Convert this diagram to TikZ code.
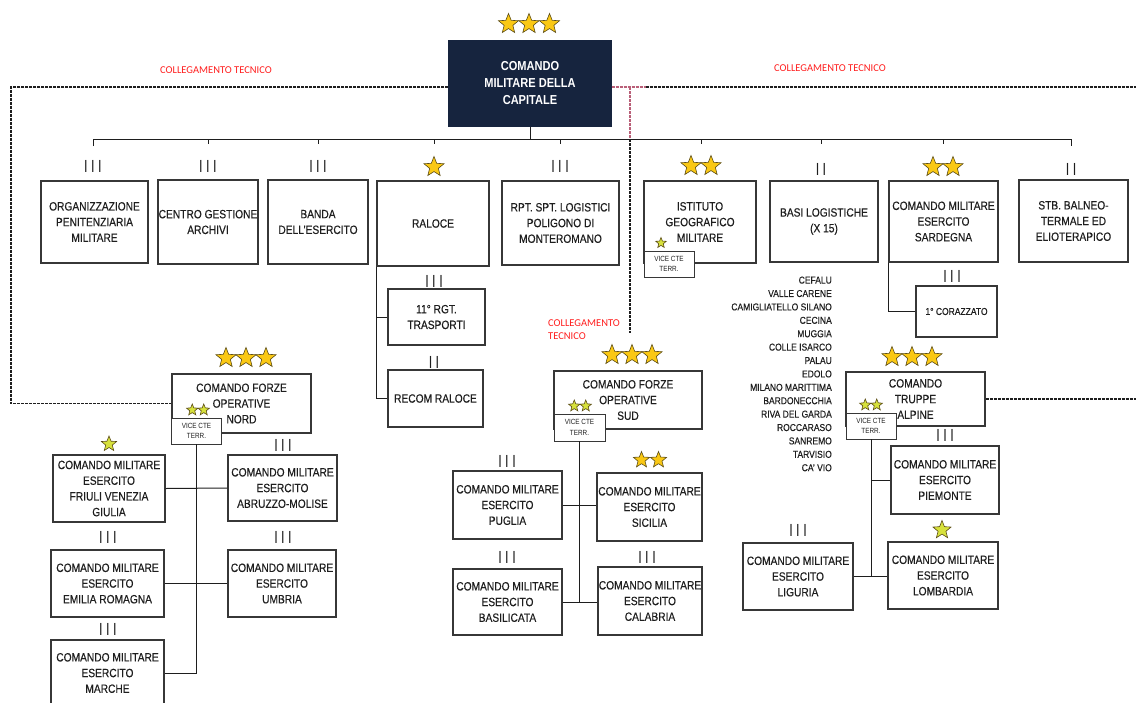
\documentclass[tikz,border=0pt]{standalone}
\usepackage{fontspec}
\setmainfont{Liberation Sans}
\newfontfamily\narrowfont{Liberation Sans}[FakeStretch=0.85, FakeBold=0.3]
\newfontfamily\capfont{Liberation Sans}[FakeStretch=0.85]
\newfontfamily\rankfont{Liberation Sans}[FakeStretch=0.72]
\newfontfamily\notefont{Carlito}
\usetikzlibrary{shapes.geometric}
\usetikzlibrary{calc}
\definecolor{navy}{RGB}{22, 36, 62}
\definecolor{boxline}{RGB}{55, 55, 55}
\definecolor{inkgray}{RGB}{30, 30, 30}
\definecolor{stargold}{RGB}{250, 200, 20}
\definecolor{starlime}{RGB}{215, 225, 60}
\definecolor{stardraw}{RGB}{90, 75, 20}
\definecolor{techred}{RGB}{255, 30, 30}
\definecolor{linkpink}{RGB}{185, 95, 120}
\tikzset{unit/.style = {draw=boxline, line width=1.2, fill=white, align=center,
                        inner sep=0, text=inkgray,
                        font=\narrowfont\fontsize{12}{15.7}\selectfont}}
\tikzset{capbox/.style = {unit, fill=navy, draw=navy, text=white,
                          font=\capfont\bfseries\fontsize{13}{17}\selectfont}}
\tikzset{vice/.style = {unit, line width=0.9, minimum width=50, minimum height=26,
                        font=\capfont\fontsize{7.5}{10.5}\selectfont}}
\tikzset{rank/.style = {inner sep=0, text=inkgray,
                        font=\rankfont\fontsize{17.5}{17.5}\selectfont}}
\tikzset{bigstar/.style = {star, star points=5, star point ratio=2.3, inner sep=0,
                           minimum size=21, draw=stardraw, line width=0.6, fill=stargold}}
\tikzset{smallstar/.style = {bigstar, minimum size=12, fill=starlime}}
\tikzset{branch/.style = {draw=inkgray, line width=1}}
\tikzset{link/.style = {inkgray, line width=1.3, dash pattern=on 3pt off 1pt}}
\tikzset{pinklink/.style = {link, linkpink}}
\tikzset{note/.style = {inner sep=0, text=techred,
                        font=\notefont\fontsize{10.5}{13}\selectfont}}
\tikzset{sedi/.style = {inner sep=0, text=inkgray, align=right,
                        font=\narrowfont\fontsize{10}{13.4}\selectfont}}
% name, position, count, spacing, style
\newcommand{\stargroup}[5]{%
  \coordinate (#1) at (#2);
  \foreach \k in {1,...,#3}
    \node [#5] (#1-\k) at ($(#1) + ({(\k - (#3 + 1) / 2) * #4}, 0)$) {};
}

\begin{document}
\begin{tikzpicture}[x=1pt, y=-1pt]
  \useasboundingbox (0,0) rectangle (1136,702);

  \node [capbox, minimum width=162, minimum height=85] (capitale) at (530,83.5)
        {COMANDO\\MILITARE DELLA\\CAPITALE};
  \stargroup{s-capitale}{529,24}{3}{20.5}{bigstar}

  % first row
  \node [unit, minimum width=107, minimum height=82] (penit) at (94.5,222)
        {ORGANIZZAZIONE\\PENITENZIARIA\\MILITARE};
  \node [unit, minimum width=100, minimum height=84] (archivi) at (208,222)
        {CENTRO GESTIONE\\ARCHIVI};
  \node [unit, minimum width=100, minimum height=84] (banda) at (318,222)
        {BANDA\\DELL’ESERCITO};
  \node [unit, minimum width=112, minimum height=85] (raloce) at (433,223.5) {RALOCE};
  \node [unit, minimum width=117, minimum height=84] (poligono) at (560.5,223)
        {RPT. SPT. LOGISTICI\\POLIGONO DI\\MONTEROMANO};
  \node [unit, minimum width=112, minimum height=82] (igm) at (700,222)
        {ISTITUTO\\GEOGRAFICO\\MILITARE};
  \node [unit, minimum width=108, minimum height=81] (basi) at (824,221.5)
        {BASI LOGISTICHE\\(X 15)};
  \node [unit, minimum width=109, minimum height=81] (sardegna) at (943.5,221.5)
        {COMANDO MILITARE\\ESERCITO\\SARDEGNA};
  \node [unit, minimum width=109, minimum height=82] (balneo) at (1073.5,221)
        {STB. BALNEO-\\TERMALE ED\\ELIOTERAPICO};

  \node [rank] (rk-penit) at (93,166) {I I I};
  \node [rank] (rk-archivi) at (208,166) {I I I};
  \node [rank] (rk-banda) at (318,166) {I I I};
  \stargroup{rk-raloce}{434,167}{1}{0}{bigstar}
  \node [rank] (rk-poligono) at (560,166) {I I I};
  \stargroup{rk-igm}{701,166}{2}{20}{bigstar}
  \node [rank] (rk-basi) at (821,169) {I I};
  \stargroup{rk-sardegna}{943,167}{2}{20}{bigstar}
  \node [rank] (rk-balneo) at (1071,169) {I I};

  \coordinate (bus) at (0,139);
  \draw [branch] (capitale) -- (capitale |- bus);
  \draw [branch] (rk-penit |- bus) ++(0,7) -- (rk-penit |- bus) -- (rk-balneo |- bus) -- ++(0,7);
  \foreach \r in {archivi,banda,raloce,poligono,igm,basi,sardegna}
    \draw [branch] (rk-\r |- bus) -- ++(0,5);

  \node [vice] (igm-vice) at (669,264) {VICE CTE\\TERR.};
  \stargroup{s-igm-vice}{661,243}{1}{0}{smallstar, minimum size=11}

  % raloce
  \node [rank] (rk-trasporti) at (434,281) {I I I};
  \node [unit, minimum width=97, minimum height=56] (trasporti) at (436.5,317)
        {11° RGT.\\TRASPORTI};
  \node [rank] (rk-recom) at (434,362) {I I};
  \node [unit, minimum width=95, minimum height=57] (recom) at (435.5,398.5) {RECOM RALOCE};
  \draw [branch] (raloce.south west) -- (raloce.south west |- recom.west) -- (recom.west);
  \draw [branch] (raloce.south west |- trasporti.west) -- (trasporti.west);

  % sardegna
  \node [rank] (rk-corazzato) at (952,276) {I I I};
  \node [unit, minimum width=81, minimum height=51, font=\narrowfont\fontsize{10}{13}\selectfont]
        (corazzato) at (956.5,311.5) {1° CORAZZATO};
  \draw [branch] (sardegna.south west) |- (corazzato.west);

  \node [sedi, anchor=north east] (sedi) at (832,276.4)
        {CEFALU\\VALLE CARENE\\CAMIGLIATELLO SILANO\\CECINA\\MUGGIA\\COLLE ISARCO\\PALAU\\EDOLO\\
         MILANO MARITTIMA\\BARDONECCHIA\\RIVA DEL GARDA\\ROCCARASO\\SANREMO\\TARVISIO\\CA’ VIO};

  % forze operative nord
  \node [unit, minimum width=139, minimum height=59] (nord) at (241.5,403.5)
        {COMANDO FORZE\\OPERATIVE\\NORD};
  \stargroup{s-nord}{246,358}{3}{20}{bigstar}
  \node [vice] (nord-vice) at (196.5,431) {VICE CTE\\TERR.};
  \stargroup{s-nord-vice}{198,410}{2}{11.5}{smallstar}

  \node [unit, minimum width=112, minimum height=67] (friuli) at (109,488.5)
        {COMANDO MILITARE\\ESERCITO\\FRIULI VENEZIA\\GIULIA};
  \stargroup{s-friuli}{109,444}{1}{0}{smallstar, minimum size=16}
  \node [rank] (rk-abruzzo) at (283,445) {I I I};
  \node [unit, minimum width=109, minimum height=66] (abruzzo) at (282.5,488)
        {COMANDO MILITARE\\ESERCITO\\ABRUZZO-MOLISE};
  \node [rank] (rk-emilia) at (108,537) {I I I};
  \node [unit, minimum width=113, minimum height=67] (emilia) at (107.5,583.5)
        {COMANDO MILITARE\\ESERCITO\\EMILIA ROMAGNA};
  \node [rank] (rk-umbria) at (283,537) {I I I};
  \node [unit, minimum width=108, minimum height=67] (umbria) at (282,583.5)
        {COMANDO MILITARE\\ESERCITO\\UMBRIA};
  \node [rank] (rk-marche) at (108,629) {I I I};
  \node [unit, minimum width=113, minimum height=66] (marche) at (107.5,673)
        {COMANDO MILITARE\\ESERCITO\\MARCHE};
  \draw [branch] (nord-vice) -- (nord-vice |- marche.east) -- (marche.east);
  \draw [branch] (friuli.east) -- (abruzzo.west);
  \draw [branch] (emilia.east) -- (umbria.west);

  % forze operative sud
  \node [unit, minimum width=148, minimum height=58] (sud) at (628,400)
        {COMANDO FORZE\\OPERATIVE\\SUD};
  \stargroup{s-sud}{632,355}{3}{20}{bigstar}
  \node [vice, minimum width=51, minimum height=27] (sud-vice) at (579.5,427.5) {VICE CTE\\TERR.};
  \stargroup{s-sud-vice}{580,406}{2}{11.5}{smallstar}

  \node [rank] (rk-puglia) at (507,461) {I I I};
  \node [unit, minimum width=109, minimum height=68] (puglia) at (507.5,505)
        {COMANDO MILITARE\\ESERCITO\\PUGLIA};
  \stargroup{s-sicilia}{650,460}{2}{17}{bigstar, minimum size=17}
  \node [unit, minimum width=105, minimum height=68] (sicilia) at (649.5,507)
        {COMANDO MILITARE\\ESERCITO\\SICILIA};
  \node [rank] (rk-basilicata) at (507,557) {I I I};
  \node [unit, minimum width=109, minimum height=66] (basilicata) at (507.5,602)
        {COMANDO MILITARE\\ESERCITO\\BASILICATA};
  \node [rank] (rk-calabria) at (647,557) {I I I};
  \node [unit, minimum width=104, minimum height=68] (calabria) at (650,601)
        {COMANDO MILITARE\\ESERCITO\\CALABRIA};
  \draw [branch] (sud-vice) -- (sud-vice |- basilicata.east);
  \draw [branch] (puglia.east) -- (puglia.east -| sicilia.west);
  \draw [branch] (basilicata.east) -- (basilicata.east -| calabria.west);

  % truppe alpine
  \node [unit, minimum width=139, minimum height=54] (alpine) at (915.5,399)
        {COMANDO\\TRUPPE\\ALPINE};
  \stargroup{s-alpine}{912,357}{3}{20}{bigstar}
  \node [vice] (alpine-vice) at (871,426) {VICE CTE\\TERR.};
  \stargroup{s-alpine-vice}{871,405}{2}{11.5}{smallstar}

  \node [rank] (rk-piemonte) at (945,435) {I I I};
  \node [unit, minimum width=108, minimum height=68] (piemonte) at (945,480)
        {COMANDO MILITARE\\ESERCITO\\PIEMONTE};
  \node [rank] (rk-liguria) at (798,530) {I I I};
  \node [unit, minimum width=110, minimum height=67] (liguria) at (798,576.5)
        {COMANDO MILITARE\\ESERCITO\\LIGURIA};
  \stargroup{s-lombardia}{942,530}{1}{0}{smallstar, minimum size=19}
  \node [unit, minimum width=110, minimum height=67] (lombardia) at (943,575.5)
        {COMANDO MILITARE\\ESERCITO\\LOMBARDIA};
  \draw [branch] (alpine-vice) -- (alpine-vice |- liguria.east);
  \draw [branch] (alpine-vice |- piemonte.west) -- (piemonte.west);
  \draw [branch] (liguria.east) -- (liguria.east -| lombardia.west);

  % collegamento tecnico
  \coordinate (west-edge) at (11,0);
  \coordinate (east-edge) at (1136,0);
  \coordinate (junction) at (630,0);
  \coordinate (sud-link) at (630,333);
  \draw [link] ([yshift=-3.5]capitale.west) -| (west-edge |- nord.west) -- (nord.west);
  \draw [pinklink] ([yshift=-3.5]capitale.east) -- ++(34,0) coordinate (pink-end);
  \draw [link] (pink-end) -- (pink-end -| east-edge);
  \draw [pinklink] (pink-end -| junction) -- (junction |- bus);
  \draw [link] (junction |- bus) -- (sud-link);
  \draw [link] (alpine.east) -- (alpine.east -| east-edge);

  \node [note] (tec-west) at (216,70) {COLLEGAMENTO TECNICO};
  \node [note] (tec-east) at (830,68) {COLLEGAMENTO TECNICO};
  \node [note, anchor=west, align=left] (tec-sud) at (548,329.5) {COLLEGAMENTO\\TECNICO};
\end{tikzpicture}
\end{document}
